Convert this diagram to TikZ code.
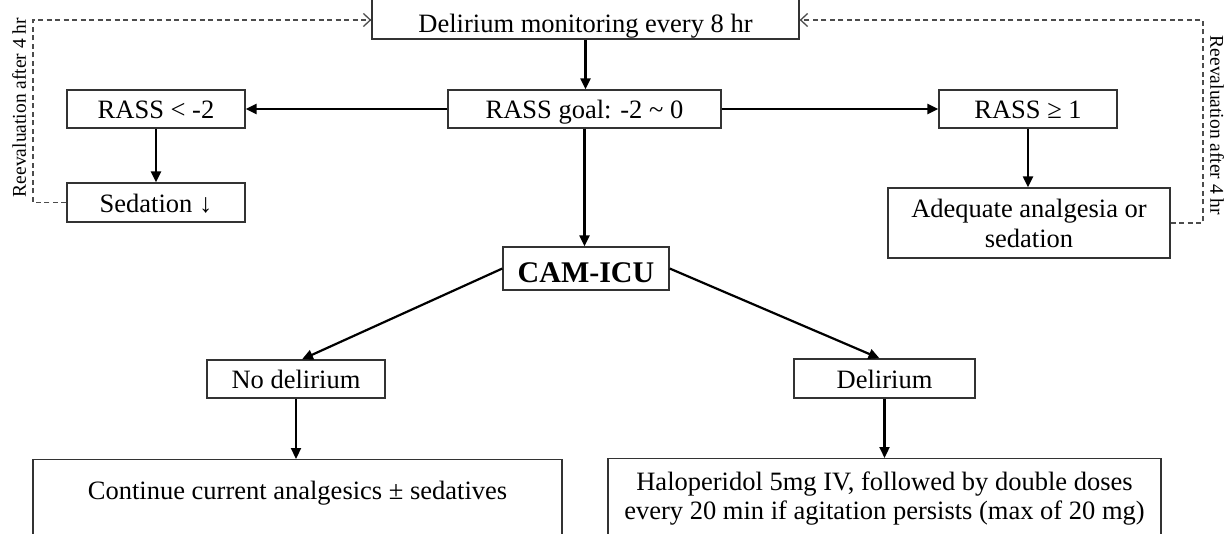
\documentclass[tikz,border=0pt]{standalone}
\usepackage{fontspec}
\setmainfont{Liberation Serif}
\usetikzlibrary{arrows.meta}
\begin{document}
\begin{tikzpicture}[x=1pt,y=-1pt,
  box/.style={draw=black!80, line width=1.3pt, inner sep=0pt, align=center,
    font=\fontsize{26.5}{30}\selectfont},
  one/.style={text height=22.5pt, text depth=3.5pt},
  txt/.style={inner sep=0pt, align=center, font=\fontsize{26.5}{29}\selectfont},
  arr/.style={line width=2.2pt, -{Triangle[length=11pt,width=10pt]}},
  darr/.style={draw=black!70, line width=1.3pt, dash pattern=on 5pt off 3.5pt,
    -{Straight Barb[length=7pt,width=13pt]}},
  vlabel/.style={inner sep=0pt, font=\fontsize{19.5}{22}\selectfont}]
\useasboundingbox (0,0) rectangle (1230,533);
\clip (0,0) rectangle (1230,533);

\node[box, text height=26pt, text depth=0pt, minimum width=427pt, minimum height=40pt] (top) at (585.5,19) {Delirium monitoring every 8 hr};
\node[box, one, minimum width=273pt, minimum height=38pt] (goal) at (584.5,109) {RASS goal: -2 \textasciitilde{} 0};
\node[box, one, minimum width=178pt, minimum height=38pt] (low) at (156,109) {RASS < -2};
\node[box, one, minimum width=178pt, minimum height=39pt] (sed) at (156,202.5) {Sedation ↓};
\node[box, one, minimum width=178pt, minimum height=38pt] (high) at (1028,109) {RASS ≥ 1};
\node[box, minimum width=282pt, minimum height=70pt] (adeq) at (1029,223) {Adequate analgesia or\\sedation};
\node[box, text height=27pt, text depth=0pt, minimum width=166pt, minimum height=43pt, font=\fontsize{30}{34}\selectfont\bfseries] (cam) at (586,268.5) {CAM-ICU};
\node[box, one, minimum width=178pt, minimum height=38pt] (nodel) at (296,379) {No delirium};
\node[box, one, minimum width=181pt, minimum height=39pt] (del) at (884.5,378.5) {Delirium};
\node[box, minimum width=529pt, minimum height=120pt, anchor=north] (contbox) at (297.5,459) {};
\node[txt] (conttxt) at (297.5,493) {Continue current analgesics ± sedatives};
\node[box, minimum width=553pt, minimum height=120pt, anchor=north] (halbox) at (884.5,458) {};
\node[txt] (haltxt) at (884.5,499) {Haloperidol 5mg IV, followed by double doses\\every 20 min if agitation persists (max of 20 mg)};

\node[vlabel, rotate=90] (ltxt) at (19,107.5) {Reevaluation after 4 hr};
\node[vlabel, rotate=-90] (rtxt) at (1217,125.5) {Reevaluation after 4 hr};

\draw[arr] (top.south) -- (top.south |- goal.north);
\draw[arr] (goal.west) -- (low.east);
\draw[arr] (goal.east) -- (high.west);
\draw[arr] (low.south) -- (sed.north);
\draw[arr] (high.south) -- (high.south |- adeq.north);
\draw[arr] (goal.south) -- (goal.south |- cam.north);
\draw[arr] (cam.west) -- ([xshift=6pt]nodel.north);
\draw[arr] (cam.east) -- ([xshift=-5pt]del.north);
\draw[arr] (nodel.south) -- (nodel.south |- contbox.north);
\draw[arr] (del.south) -- (del.south |- halbox.north);

\coordinate (lcorner) at (33,20);
\coordinate (rcorner) at (1203,20);
\draw[darr] (sed.west) -| (lcorner) -- (top.west |- lcorner);
\draw[darr] (adeq.east) -| (rcorner) -- (top.east |- rcorner);
\end{tikzpicture}
\end{document}
